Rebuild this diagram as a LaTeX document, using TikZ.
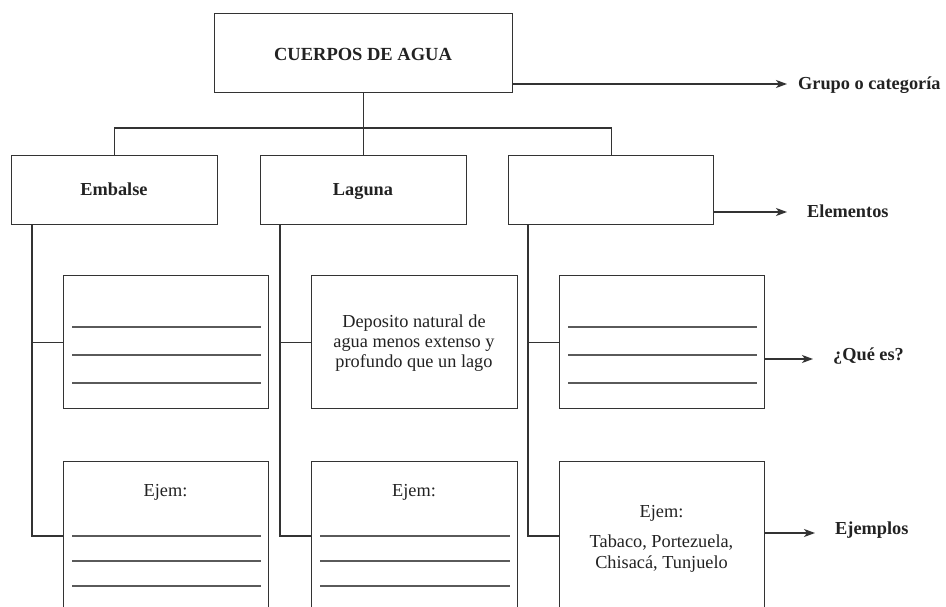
\documentclass[tikz,border=0pt]{standalone}
\usepackage{fontspec}
\setmainfont{Liberation Serif}
\usetikzlibrary{arrows.meta}
\definecolor{linec}{HTML}{333333}
\definecolor{rulec}{HTML}{5A5A5A}
\definecolor{textc}{HTML}{222222}
\begin{document}
\begin{tikzpicture}[x=1pt,y=-1pt,
  box/.style={draw=linec, line width=1.3pt, inner sep=0pt, anchor=north west},
  conn/.style={draw=linec, line width=1.3pt},
  rule/.style={draw=rulec, line width=1.1pt},
  arr/.style={draw=linec, line width=1.3pt, -{Stealth[length=11pt,width=8pt,inset=3pt]}},
  blab/.style={text=textc, inner sep=0pt, font=\fontsize{18.3}{20}\selectfont\bfseries},
  rlab/.style={text=textc, inner sep=0pt, font=\fontsize{18.3}{20}\selectfont, align=center}]
\clip (0,0) rectangle (946,607);
\fill[white] (0,0) rectangle (946,607);

% boxes
\node[box, minimum width=298pt, minimum height=79pt] (top) at (214,13) {};
\node[box, minimum width=206pt, minimum height=69pt] (emb) at (11,155) {};
\node[box, minimum width=206pt, minimum height=69pt] (lag) at (260,155) {};
\node[box, minimum width=205pt, minimum height=69pt] (el3) at (508,155) {};
\node[box, minimum width=205pt, minimum height=133pt] (q1) at (63,275) {};
\node[box, minimum width=206pt, minimum height=133pt] (q2) at (311,275) {};
\node[box, minimum width=205pt, minimum height=133pt] (q3) at (559,275) {};
\node[box, minimum width=205pt, minimum height=200pt] (e1) at (63,461) {};
\node[box, minimum width=206pt, minimum height=200pt] (e2) at (311,461) {};
\node[box, minimum width=205pt, minimum height=200pt] (e3) at (559,461) {};

% box labels
\node[blab, anchor=base, font=\fontsize{18.5}{20}\selectfont\bfseries] (ttop) at (363,61) {CUERPOS DE AGUA};
\node[blab, anchor=base] (temb) at (114,196) {Embalse};
\node[blab, anchor=base] (tlag) at (363,196) {Laguna};
\node[rlab] (tq2) at (414,343) {Deposito natural de\\agua menos extenso y\\profundo que un lago};
\node[rlab, anchor=base] (te1) at (165.5,496) {Ejem:};
\node[rlab, anchor=base] (te2) at (414,496) {Ejem:};
\node[rlab, anchor=base] (te3a) at (661.5,517) {Ejem:};
\node[rlab, anchor=base] (te3b) at (661.5,547) {Tabaco, Portezuela,};
\node[rlab, anchor=base] (te3c) at (661.5,568) {Chisacá, Tunjuelo};

% writing lines
\foreach \b in {q1,q3}{
  \foreach \dy in {52,80,108}{
    \draw[rule] ([xshift=9pt,yshift=-\dy pt]\b.north west) -- ([xshift=-8pt,yshift=-\dy pt]\b.north east);
  }
}
\foreach \b in {e1,e2}{
  \foreach \dy in {75,100,125}{
    \draw[rule] ([xshift=9pt,yshift=-\dy pt]\b.north west) -- ([xshift=-8pt,yshift=-\dy pt]\b.north east);
  }
}

% tree connectors
\coordinate (hb) at (363,128);
\draw[conn] (top.south) -- (lag.north);
\draw[conn] (emb.north) |- (hb) -| (el3.north);

% trunks
\coordinate (j1) at (63,536);
\coordinate (j2) at (311,536);
\coordinate (j3) at (559,536);
\draw[conn] ([xshift=21pt]emb.south west) |- (j1);
\draw[conn] ([xshift=20pt]lag.south west) |- (j2);
\draw[conn] ([xshift=20pt]el3.south west) |- (j3);
\draw[conn] ([xshift=21pt]emb.south west |- q1.west) -- (q1.west);
\draw[conn] ([xshift=20pt]lag.south west |- q2.west) -- (q2.west);
\draw[conn] ([xshift=20pt]el3.south west |- q3.west) -- (q3.west);

% side labels and arrows
\node[blab, anchor=base west] (lgrp) at (798,90) {Grupo o categoría};
\node[blab, anchor=base west] (lele) at (807,218) {Elementos};
\node[blab, anchor=base west] (lque) at (833,360) {¿Qué es?};
\node[blab, anchor=base west] (leje) at (835,534) {Ejemplos};
\coordinate (a1) at (787,84);
\coordinate (a2) at (787,212);
\coordinate (a3) at (813,359);
\coordinate (a4) at (815,533);
\draw[arr] (top.south east |- a1) -- (a1);
\draw[arr] (el3.south east |- a2) -- (a2);
\draw[arr] (q3.south east |- a3) -- (a3);
\draw[arr] (e3.south east |- a4) -- (a4);
\end{tikzpicture}
\end{document}
